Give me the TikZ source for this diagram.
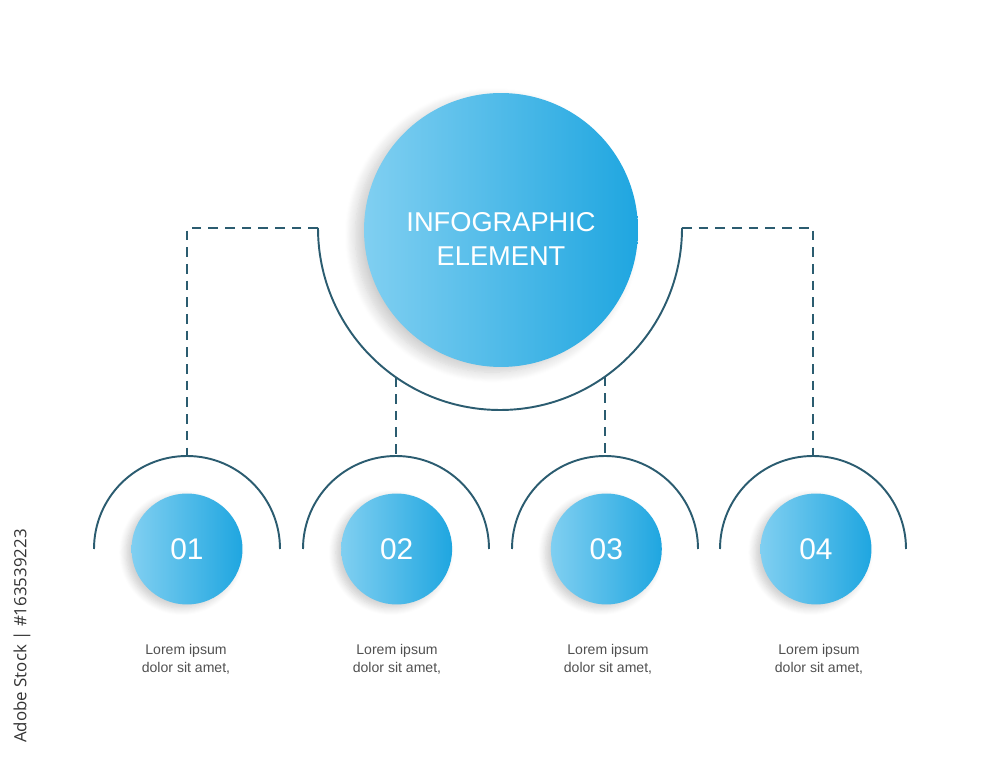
\documentclass[tikz,border=0pt]{standalone}
\usepackage{fontspec}
\setmainfont{Liberation Sans}
\newfontfamily\stampfont{Open Sans}
\usetikzlibrary{positioning,shadows.blur}

\definecolor{lineteal}{HTML}{2B5C70}
\definecolor{bluelight}{HTML}{80CFF1}
\definecolor{bluedark}{HTML}{1FA6E0}
\definecolor{loremgrey}{HTML}{505050}

\begin{document}
\begin{tikzpicture}[
    x=0.02cm, y=0.02cm,
    bigball/.style={circle, inner sep=0pt, minimum size=5.48cm, left color=bluelight, right color=bluedark, blur shadow={shadow xshift=-5pt, shadow yshift=-3pt, shadow blur radius=6pt, shadow blur steps=12, shadow opacity=20}},
    bigtext/.style={text=white, align=center, yshift=-0.18cm, font=\fontsize{15.5}{19.8}\selectfont},
    ball/.style={circle, inner sep=0pt, minimum size=2.22cm, left color=bluelight, right color=bluedark, text=white, font=\fontsize{17}{20}\selectfont, blur shadow={shadow xshift=-3pt, shadow yshift=-2pt, shadow blur radius=4pt, shadow blur steps=8, shadow opacity=20}},
    arcline/.style={draw=lineteal, line width=1.1pt},
    dashline/.style={draw=lineteal, line width=1.1pt, dash pattern=on 5.5pt off 4pt},
    caption/.style={text=loremgrey, align=center, font=\fontsize{8}{10.2}\selectfont}
]
\useasboundingbox (0,0) rectangle (1000,767);

% Define the main circle and the four steps
\node [bigball, label={[bigtext]center:INFOGRAPHIC\\ELEMENT}] (main) at (501,537) {};
\node [ball] (b1) at (187,218) {01};
\node [ball, right=1.96cm of b1] (b2) {02};
\node [ball, right=1.96cm of b2] (b3) {03};
\node [ball, right=1.96cm of b3] (b4) {04};

% Arc ends and tops
\coordinate (bigW) at (318,539);
\coordinate (bigE) at (682,539);
\coordinate (m2) at (396,389.6);
\coordinate (m3) at (605,390.3);
\coordinate (t1) at (187,311);
\coordinate (t2) at (396,311);
\coordinate (t3) at (605,311);
\coordinate (t4) at (813,311);

% Draw arcs
\draw [arcline] (bigW) arc[start angle=180, end angle=360, radius=182];
\draw [arcline] (94,218) arc[start angle=180, end angle=0, radius=93];
\draw [arcline] (303,218) arc[start angle=180, end angle=0, radius=93];
\draw [arcline] (512,218) arc[start angle=180, end angle=0, radius=93];
\draw [arcline] (720,218) arc[start angle=180, end angle=0, radius=93];

% Draw dashed links
\draw [dashline] (bigW) -| (t1);
\draw [dashline] (m2) -- (t2);
\draw [dashline] (m3) -- (t3);
\draw [dashline] (bigE) -| (t4);

% Add captions below steps
\node [caption] (c1) at (186,108) {Lorem ipsum\\dolor sit amet,};
\node [caption] (c2) at (397,108) {Lorem ipsum\\dolor sit amet,};
\node [caption] (c3) at (608,108) {Lorem ipsum\\dolor sit amet,};
\node [caption] (c4) at (819,108) {Lorem ipsum\\dolor sit amet,};

\node [rotate=90, text=black!80, font=\stampfont\fontsize{9.6}{11}\selectfont] (stamp) at (22,131) {Adobe Stock | \#163539223};

\end{tikzpicture}
\end{document}
